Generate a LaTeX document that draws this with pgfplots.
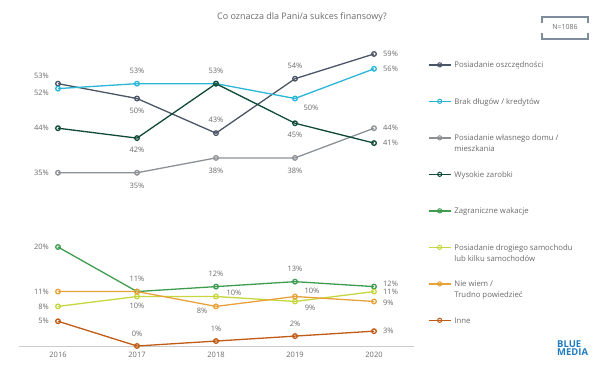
\documentclass[border=0pt]{standalone}
\usepackage{fontspec}
\setmainfont{Open Sans}
\usepackage{pgfplots}
\pgfplotsset{compat=1.18}
\definecolor{cP}{HTML}{4A5566}
\definecolor{cB}{HTML}{2AB6D6}
\definecolor{cD}{HTML}{8C9196}
\definecolor{cW}{HTML}{0F4A36}
\definecolor{cZ}{HTML}{3E9C4F}
\definecolor{cS}{HTML}{C6D63E}
\definecolor{cN}{HTML}{E8A23A}
\definecolor{cI}{HTML}{C05A14}
\definecolor{labgray}{HTML}{6A6A6A}
\definecolor{boxc}{HTML}{7D8D9C}
\definecolor{logoc}{HTML}{1F7BC1}
\tikzset{lab/.style={font=\fontsize{7.5}{9}\selectfont, text=labgray, inner sep=0pt}}
\newcommand{\LE}[1]{\raisebox{0pt}[7bp][2bp]{\begin{tabular}[t]{@{}l@{}}#1\end{tabular}}}
\begin{document}
\begin{tikzpicture}[x=1bp,y=1bp]
\useasboundingbox (0,0) rectangle (602,365);
\begin{axis}[
  at={(18.5bp,19bp)}, anchor=south west,
  scale only axis, width=395bp, height=297bp,
  xmin=2015.5, xmax=2020.5, ymin=0, ymax=60,
  axis x line=bottom, axis y line=none,
  x axis line style={-, draw=black!20, line width=0.8bp},
  xtick={2016,2017,2018,2019,2020},
  major tick length=0pt,
  /pgf/number format/1000 sep={},
  /pgf/number format/assume math mode=true,
  xticklabel style={font=\fontsize{7.5}{9}\selectfont, text=labgray, yshift=-3bp},
  clip=false,
  every axis plot/.append style={line width=1.3bp, mark=o, mark size=2.3bp,
     mark options={fill=white, solid, line width=1.2bp}},
  legend cell align=left,
  legend style={at={(1.0367,0.961)}, anchor=north west, draw=none, fill=none,
     inner sep=0pt, outer sep=0pt, row sep=28bp, column sep=3bp,
     nodes={inner sep=0pt, outer sep=0pt},
     font=\fontsize{7.8}{11}\selectfont, text=labgray},
  legend image code/.code={\draw[mark repeat=2,mark phase=2,#1,line width=1.4bp,mark size=2.1bp,mark options={fill=white,line width=1bp}] plot coordinates {(0bp,0bp) (11bp,0bp) (22bp,0bp)};},
]
\addplot[color=cP, mark options={fill=white}] coordinates {(2016,53) (2017,50) (2018,43) (2019,54) (2020,59)};
\addlegendentry{\LE{Posiadanie oszczędności}}
\addplot[color=cB, mark options={fill=white}] coordinates {(2016,52) (2017,53) (2018,53) (2019,50) (2020,56)};
\addlegendentry{\LE{Brak długów / kredytów}}
\addplot[color=cD, mark options={fill=white}] coordinates {(2016,35) (2017,35) (2018,38) (2019,38) (2020,44)};
\addlegendentry{\LE{Posiadanie własnego domu /\\mieszkania}}
\addplot[color=cW, mark options={fill=white}] coordinates {(2016,44) (2017,42) (2018,53) (2019,45) (2020,41)};
\addlegendentry{\LE{Wysokie zarobki}}
\addplot[color=cZ, mark options={fill=white}] coordinates {(2016,20) (2017,11) (2018,12) (2019,13) (2020,12)};
\addlegendentry{\LE{Zagraniczne wakacje}}
\addplot[color=cS, mark options={fill=white}] coordinates {(2016,8) (2017,10) (2018,10) (2019,9) (2020,11)};
\addlegendentry{\LE{Posiadanie drogiego samochodu\\lub kilku samochodów}}
\addplot[color=cN, mark options={fill=white}] coordinates {(2016,11) (2017,11) (2018,8) (2019,10) (2020,9)};
\addlegendentry{\LE{Nie wiem /\\Trudno powiedzieć}}
\addplot[color=cI, mark options={fill=white}] coordinates {(2016,5) (2017,0) (2018,1) (2019,2) (2020,3)};
\addlegendentry{\LE{Inne}}
% 2016
\node[lab, anchor=east, xshift=-9bp, yshift=8bp] at (axis cs:2016,53) {53\%};
\node[lab, anchor=east, xshift=-9bp, yshift=-4bp] at (axis cs:2016,52) {52\%};
\node[lab, anchor=east, xshift=-9bp] at (axis cs:2016,44) {44\%};
\node[lab, anchor=east, xshift=-9bp] at (axis cs:2016,35) {35\%};
\node[lab, anchor=east, xshift=-9bp] at (axis cs:2016,20) {20\%};
\node[lab, anchor=east, xshift=-9bp] at (axis cs:2016,11) {11\%};
\node[lab, anchor=east, xshift=-9bp] at (axis cs:2016,8) {8\%};
\node[lab, anchor=east, xshift=-9bp] at (axis cs:2016,5) {5\%};
% 2017
\node[lab, yshift=13bp] at (axis cs:2017,53) {53\%};
\node[lab, yshift=-12.5bp] at (axis cs:2017,50) {50\%};
\node[lab, yshift=-12bp] at (axis cs:2017,42) {42\%};
\node[lab, yshift=-13bp] at (axis cs:2017,35) {35\%};
\node[lab, yshift=12.5bp] at (axis cs:2017,11) {11\%};
\node[lab, yshift=-9.5bp] at (axis cs:2017,10) {10\%};
\node[lab, yshift=12bp] at (axis cs:2017,0) {0\%};
% 2018
\node[lab, yshift=13bp] at (axis cs:2018,53) {53\%};
\node[lab, yshift=13bp] at (axis cs:2018,43) {43\%};
\node[lab, yshift=-13bp] at (axis cs:2018,38) {38\%};
\node[lab, yshift=13bp] at (axis cs:2018,12) {12\%};
\node[lab, xshift=18bp, yshift=4bp] at (axis cs:2018,10) {10\%};
\node[lab, xshift=-14bp, yshift=-4bp] at (axis cs:2018,8) {8\%};
\node[lab, yshift=12bp] at (axis cs:2018,1) {1\%};
% 2019
\node[lab, yshift=13bp] at (axis cs:2019,54) {54\%};
\node[lab, xshift=16bp, yshift=-9bp] at (axis cs:2019,50) {50\%};
\node[lab, yshift=-12bp] at (axis cs:2019,45) {45\%};
\node[lab, yshift=-13bp] at (axis cs:2019,38) {38\%};
\node[lab, yshift=12.5bp] at (axis cs:2019,13) {13\%};
\node[lab, xshift=17bp, yshift=5.5bp] at (axis cs:2019,10) {10\%};
\node[lab, xshift=15bp, yshift=-6.5bp] at (axis cs:2019,9) {9\%};
\node[lab, yshift=12bp] at (axis cs:2019,2) {2\%};
% 2020
\node[lab, anchor=west, xshift=9bp] at (axis cs:2020,59) {59\%};
\node[lab, anchor=west, xshift=9bp] at (axis cs:2020,56) {56\%};
\node[lab, anchor=west, xshift=9bp] at (axis cs:2020,44) {44\%};
\node[lab, anchor=west, xshift=9bp] at (axis cs:2020,41) {41\%};
\node[lab, anchor=west, xshift=9bp, yshift=3bp] at (axis cs:2020,12) {12\%};
\node[lab, anchor=west, xshift=9bp] at (axis cs:2020,11) {11\%};
\node[lab, anchor=west, xshift=9bp, yshift=-1bp] at (axis cs:2020,9) {9\%};
\node[lab, anchor=west, xshift=9bp] at (axis cs:2020,3) {3\%};
\end{axis}
% title
\node[font=\fontsize{9}{11}\selectfont, text=labgray] at (302,348) {Co oznacza dla Pani/a sukces finansowy?};
% N box
\draw[boxc, line width=1.4bp] (542,342) -- (542,348) -- (588,348) -- (588,342);
\draw[boxc, line width=1.4bp] (542,332) -- (542,326) -- (588,326) -- (588,332);
\node[font=\fontsize{7}{8}\selectfont, text=labgray] at (565,337.5) {N=1086};
% logo
\node[font=\fontsize{9.5}{8.5}\selectfont\bfseries, text=logoc, align=left, anchor=north west, inner sep=0pt] at (557,24.5) {BLUE\\MEDIA};
\end{tikzpicture}
\end{document}
